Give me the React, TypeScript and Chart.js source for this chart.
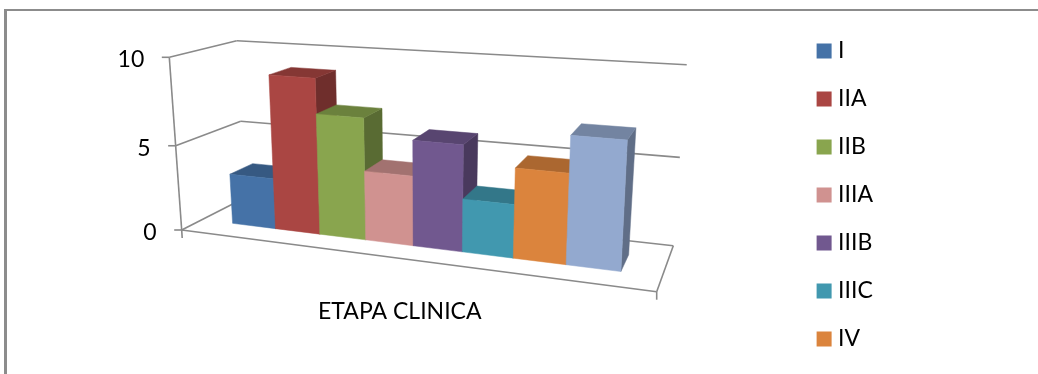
import { useEffect, useRef } from "react";
import { Chart, registerables } from "chart.js";

Chart.register(...registerables);

const categories = ["ETAPA CLINICA"];
const seriesNames = ["I", "IIA", "IIB", "IIIA", "IIIB", "IIIC", "IV", "IVB"];
const seriesValues = [3, 9, 7, 4, 6, 3, 5, 7];
const seriesColors = ["#4572A7", "#AA4643", "#89A54E", "#D09290", "#71588F", "#4198AF", "#DB843D", "#93A9CF"];
const legendCount = 7;
const yTicks = { min: 0, max: 10, step: 5 };

const FONT = "Lato";
const LINE = "#8a8a8a";

// Corners of the chart box: key is [across, up, depth].
const box = {
  c000: [181.7, 230], c010: [169.3, 57.3], c001: [244.5, 198], c011: [236.7, 40.7],
  c100: [656.7, 291.7], c110: [667, 93], c101: [673.3, 245.7], c111: [686.7, 64.7],
};

const lerp = (a: number, b: number, t: number) => a + (b - a) * t;
// Foreshortening along the width and height of the box.
const warpAcross = (t: number) => t / (1 + 0.18 * (1 - t));
const warpUp = (t: number) => t / (1 + 0.05 * (1 - t));

function project(u: number, v: number, w: number): [number, number] {
  const pick = (k: 0 | 1) => {
    const front = lerp(lerp(box.c000[k], box.c100[k], u), lerp(box.c010[k], box.c110[k], u), v);
    const back = lerp(lerp(box.c001[k], box.c101[k], u), lerp(box.c011[k], box.c111[k], u), v);
    return lerp(front, back, w);
  };
  return [pick(0), pick(1)];
}

function shade(hex: string, f: number) {
  const n = parseInt(hex.slice(1), 16);
  const c = [(n >> 16) & 255, (n >> 8) & 255, n & 255].map((x) => Math.round(x * f));
  return `rgb(${c[0]},${c[1]},${c[2]})`;
}

const BAR_FRONT = 0.327;
const BAR_BACK = 0.7;

const box3d = {
  id: "box3d",
  // The flat bars are replaced by projected boxes built from the same elements.
  beforeDatasetsDraw(chart: any) {
    const { ctx, chartArea: area, scales } = chart;
    const yScale = scales.y;
    const zero = yScale.getPixelForValue(yTicks.min);
    const span = zero - yScale.getPixelForValue(yTicks.max);
    const toU = (px: number) => warpAcross((px - area.left) / area.width);
    const toV = (px: number) => warpUp((zero - px) / span);

    const line = (a: [number, number], b: [number, number]) => {
      ctx.beginPath();
      ctx.moveTo(a[0], a[1]);
      ctx.lineTo(b[0], b[1]);
      ctx.stroke();
    };
    const quad = (pts: [number, number][], fill: string) => {
      ctx.beginPath();
      pts.forEach((p, i) => (i ? ctx.lineTo(p[0], p[1]) : ctx.moveTo(p[0], p[1])));
      ctx.closePath();
      ctx.fillStyle = fill;
      ctx.fill();
      ctx.strokeStyle = fill;
      ctx.lineWidth = 0.5;
      ctx.stroke();
    };

    ctx.save();

    // Page frame
    ctx.fillStyle = "#8c8c8c";
    ctx.fillRect(4, 9, 1034, 2);
    ctx.fillRect(4, 9, 3, 365);

    // Walls, floor and tick marks
    ctx.strokeStyle = LINE;
    ctx.lineWidth = 1.6;
    line(project(0, 0, 0), project(0, 1, 0));
    line(project(0, 0, 0), project(1, 0, 0));
    line(project(1, 0, 0), project(1, 0, 1));
    line(project(1, 0, 1), project(0, 0, 1));
    line(project(0, 0, 0), project(0, 0, 1));
    const fl = project(0, 0, 0);
    const fr = project(1, 0, 0);
    line(fl, [fl[0] + 0.5, fl[1] + 8]);
    line(fr, [fr[0], fr[1] + 8]);

    yScale.ticks.forEach((tick: any) => {
      const v = toV(yScale.getPixelForValue(tick.value));
      const p = project(0, v, 0);
      if (tick.value !== yTicks.min) {
        line(p, project(0, v, 1));
        line(project(0, v, 1), project(1, v, 1));
      }
      line(p, [p[0] - 7.5, p[1]]);
      ctx.fillStyle = "#000";
      ctx.font = `23px ${FONT}`;
      ctx.textAlign = "right";
      ctx.textBaseline = "middle";
      ctx.fillText(String(tick.value), p[0] - 25, p[1] + 2.5);
    });

    // Boxes, painted left to right so each one covers its neighbour's side
    chart.data.datasets.forEach((ds: any, i: number) => {
      const bar = chart.getDatasetMeta(i).data[0];
      const { x, y, width } = bar.getProps(["x", "y", "width"], true);
      const u0 = toU(x - width / 2);
      const u1 = toU(x + width / 2);
      const v = toV(y);
      const color = ds.backgroundColor as string;
      quad([project(u1, 0, BAR_FRONT), project(u1, 0, BAR_BACK), project(u1, v, BAR_BACK), project(u1, v, BAR_FRONT)], shade(color, 0.65));
      quad([project(u0, v, BAR_FRONT), project(u1, v, BAR_FRONT), project(u1, v, BAR_BACK), project(u0, v, BAR_BACK)], shade(color, 0.78));
      quad([project(u0, 0, BAR_FRONT), project(u1, 0, BAR_FRONT), project(u1, v, BAR_FRONT), project(u0, v, BAR_FRONT)], color);
    });

    ctx.restore();
    return false;
  },
};

export default function App() {
  const ref = useRef<HTMLCanvasElement | null>(null);

  useEffect(() => {
    document.body.style.margin = "0";
    const chart = new Chart(ref.current!, {
      type: "bar",
      data: {
        labels: categories,
        datasets: seriesNames.map((name, i) => ({
          label: name,
          data: [seriesValues[i]],
          backgroundColor: seriesColors[i],
          barPercentage: 1,
          categoryPercentage: 0.846,
        })),
      },
      options: {
        responsive: false,
        animation: false,
        layout: { padding: { left: -5, right: 155, top: 14, bottom: -2 } },
        scales: {
          x: {
            grid: { display: false },
            border: { display: false },
            ticks: { color: "#000", padding: 34, font: { family: FONT, size: 23 } },
            afterFit: (s: any) => {
              s.height = 120;
            },
          },
          y: {
            min: yTicks.min,
            max: yTicks.max,
            grid: { display: false },
            border: { display: false },
            ticks: { display: false, stepSize: yTicks.step },
          },
        },
        plugins: {
          tooltip: { enabled: false },
          legend: {
            position: "right",
            labels: {
              color: "#000",
              font: { family: FONT, size: 23 },
              padding: 25,
              boxWidth: 5,
              boxHeight: 5,
              generateLabels: () =>
                seriesNames.slice(0, legendCount).map((name, i) => ({
                  text: name,
                  fillStyle: seriesColors[i],
                  strokeStyle: seriesColors[i],
                  lineWidth: 10,
                  datasetIndex: i,
                  fontColor: "#000",
                })),
            },
          },
        },
      },
      plugins: [box3d],
    });
    return () => chart.destroy();
  }, []);

  return <canvas ref={ref} width={1038} height={374} style={{ display: "block" }} />;
}
